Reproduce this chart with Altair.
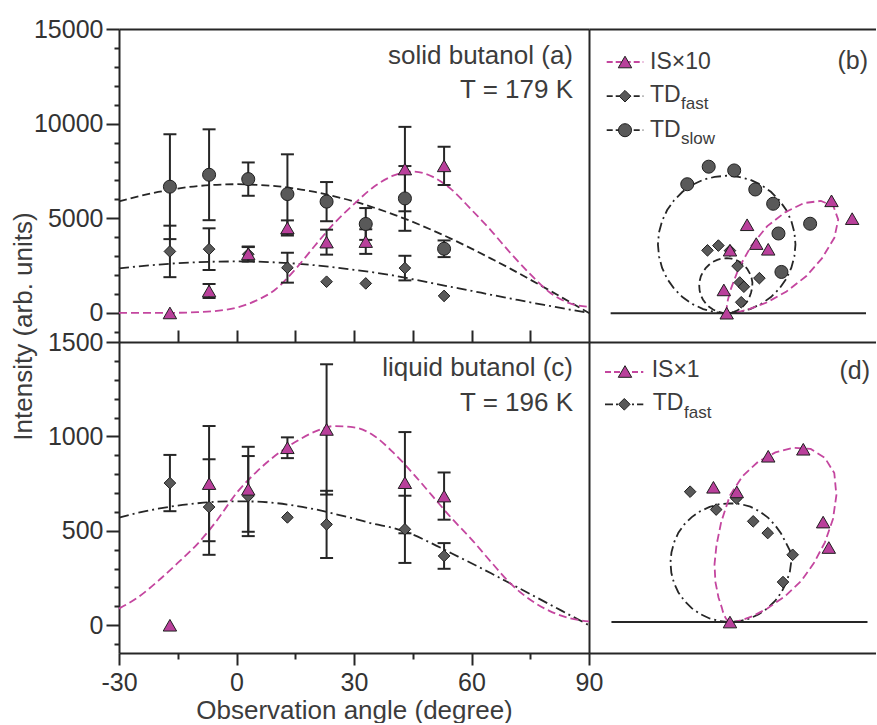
import altair as alt
import pandas as pd

FONT = "Liberation Sans"
MAG_LINE = "#c4469f"
MAG_FILL = "#b9409b"
DARK_FILL = "#595959"
EDGE = "#1f1f1f"
INK = "#262626"
TEXT = "#3c3c3c"
DASH = [8, 4]
DASHDOT = [10, 4, 2, 4]

angles_a = [-17, -7, 3, 13, 23, 33, 43, 53]
is_a = [0, 1160, 3120, 4490, 3740, 3770, 7600, 7770]
is_a_err = [0, 370, 390, 400, 660, 650, 2230, 1010]
fast_a = [3250, 3370, 3100, 2390, 1650, 1560, 2370, 900]
fast_a_err = [1360, 1100, 380, 790, 0, 0, 650, 0]
slow_a = [6670, 7300, 7070, 6280, 5880, 4700, 6050, 3390]
slow_a_err = [2770, 2400, 880, 2100, 1035, 840, 1710, 440]

angles_c = [-17, -7, 3, 13, 23, 43, 53]
is_c = [0, 750, 720, 940, 1037, 755, 684]
is_c_err = [0, 305, 225, 55, 345, 268, 125]
fast_c = [753, 626, 684, 571, 534, 508, 367]
fast_c_err = [149, 253, 212, 0, 178, 178, 68]

# fitted curves
fit_angles = [-90, -85, -80, -75, -70, -65, -60, -55, -50, -45, -40, -35, -30,
              -25, -20, -15, -10, -5, 0, 5, 10, 15, 20, 25, 30, 35, 40, 45,
              50, 55, 60, 65, 70, 75, 80, 85, 90]
slow_a_fit = [0, 590, 1180, 1760, 2330, 2870, 3400, 3900, 4370, 4810, 5210, 5570, 5890,
              6160, 6390, 6570, 6700, 6770, 6800, 6770, 6700, 6570, 6390, 6160, 5890,
              5570, 5210, 4810, 4370, 3900, 3400, 2870, 2330, 1760, 1180, 590, 0]
fast_a_fit = [0, 230, 470, 700, 930, 1150, 1360, 1560, 1750, 1920, 2080, 2230, 2350,
              2460, 2550, 2630, 2680, 2710, 2720, 2710, 2670, 2610, 2520, 2410, 2280,
              2140, 1980, 1780, 1570, 1370, 1170, 960, 760, 560, 370, 180, 0]
is_a_fit = [0, 0, 0, 0, 0, 0, 0, 0, 0, 0, 0, 0, 0, 0, 0,
            10, 40, 110, 280, 650, 1250, 2300, 3550, 4750, 5750, 6650, 7250, 7470,
            7200, 6500, 5450, 4350, 3150, 2050, 1080, 520, 320]
fast_c_fit = [0, 57, 114, 170, 225, 278, 330, 378, 423, 465, 503, 538, 570,
              596, 617, 634, 646, 654, 656, 655, 647, 633, 614, 590, 565, 537,
              515, 480, 432, 380, 328, 275, 220, 165, 110, 55, 0]
is_c_fit = [0, 0, 1, 2, 4, 7, 11, 17, 25, 36, 50, 67, 88,
            150, 235, 330, 430, 555, 700, 810, 900, 970, 1025, 1055, 1048, 1005,
            915, 805, 685, 565, 455, 335, 220, 135, 75, 38, 20]

baseline_b = [-5740, 6890]
baseline_d = [-655, 760]


def pts(angles, vals, errs):
    return pd.DataFrame({"a": angles, "v": vals, "e": errs})


A_IS = pts(angles_a, is_a, is_a_err)
A_FAST = pts(angles_a, fast_a, fast_a_err)
A_SLOW = pts(angles_a, slow_a, slow_a_err)
C_IS = pts(angles_c, is_c, is_c_err)
C_FAST = pts(angles_c, fast_c, fast_c_err)
FIT_A = pd.DataFrame({"a": fit_angles, "slow": slow_a_fit, "fast": fast_a_fit, "IS": is_a_fit})
FIT_C = pd.DataFrame({"a": fit_angles, "fast": fast_c_fit, "IS": is_c_fit})
ONE = pd.DataFrame({"k": [0]})
BASE_B = pd.DataFrame({"x1": [baseline_b[0]], "x2": [baseline_b[1]], "y": [0]})
BASE_D = pd.DataFrame({"x1": [baseline_d[0]], "x2": [baseline_d[1]], "y": [0]})

# ---------------- scales ----------------
def sc(lo, hi):
    return alt.Scale(domain=[lo, hi], nice=False, zero=False)

XS = sc(-30, 90)
YA = sc(-1535, 15000)
YC = sc(-147, 1500)
XB = sc(-6810, 7384)
YB = sc(-1424, 14055)
XD = sc(-779, 807)
YD = sc(-171, 1547)

# ---------------- axes ----------------
ax_top_border = alt.Axis(orient="top", domain=True, ticks=False, labels=False, title=None)
ax_bottom_border = alt.Axis(orient="bottom", domain=True, ticks=False, labels=False, title=None)
ax_right_border = alt.Axis(orient="right", domain=True, ticks=False, labels=False, title=None)

ya_major = alt.Axis(orient="left", values=[0, 5000, 10000, 15000], format="d", tickSize=13,
                    labelPadding=3, title="Intensity (arb. units)", titleX=-88, titleY=297,
                    titleAngle=270, titleAlign="center", titleBaseline="alphabetic")
ya_minor = alt.Axis(orient="left", values=[-1000, 1000, 2000, 3000, 4000, 6000, 7000, 8000, 9000,
                                           11000, 12000, 13000, 14000],
                    tickSize=5, labels=False, domain=False, title=None)
yc_major = alt.Axis(orient="left", values=[0, 500, 1000, 1500], format="d", tickSize=13,
                    labelPadding=3, title=None)
yc_minor = alt.Axis(orient="left", values=[-100, 100, 200, 300, 400, 600, 700, 800, 900,
                                           1100, 1200, 1300, 1400],
                    tickSize=5, labels=False, domain=False, title=None)
xc_major = alt.Axis(orient="bottom", values=[-30, 0, 30, 60, 90], labelExpr="'' + datum.value",
                    tickSize=12, labelPadding=5, title="Observation angle (degree)",
                    titleBaseline="alphabetic", titleY=65)
xc_minor = alt.Axis(orient="bottom", values=[-15, 15, 45, 75], tickSize=6, labels=False,
                    domain=False, title=None)
xc_top = alt.Axis(orient="top", values=[-15, 0, 15, 30, 45, 60, 75], tickSize=12, labels=False,
                  domain=True, title=None)

TRI = {"shape": "triangle-up", "fill": MAG_FILL, "size": 180}
DIA = {"shape": "diamond", "fill": DARK_FILL, "size": 135}
CIR = {"shape": "circle", "fill": DARK_FILL, "size": 170}


def curve(df, field, color, dash, xs, ys, xaxis=None, yaxis=None):
    return alt.Chart(df).transform_filter("datum.a >= -30").mark_line(
        color=color, strokeDash=dash, strokeWidth=1.8, interpolate="monotone"
    ).encode(x=alt.X("a:Q", scale=xs, axis=xaxis),
             y=alt.Y(f"{field}:Q", scale=ys, axis=yaxis),
             order="a:Q")


def polar_curve(df, field, color, dash, xs, ys, xaxis=None):
    return alt.Chart(df).transform_calculate(
        px=f"datum['{field}'] * sin(datum.a * PI / 180)",
        py=f"datum['{field}'] * cos(datum.a * PI / 180)",
    ).mark_line(color=color, strokeDash=dash, strokeWidth=1.8).encode(
        x=alt.X("px:Q", scale=xs, axis=xaxis),
        y=alt.Y("py:Q", scale=ys, axis=None),
        order="a:Q")


def errbars(df, xs, ys):
    base = alt.Chart(df).transform_filter("datum.e > 0").transform_calculate(
        lo="datum.v - datum.e", hi="datum.v + datum.e")
    x = alt.X("a:Q", scale=xs, axis=None)
    rule = base.mark_rule(color=INK, strokeWidth=2).encode(
        x=x, y=alt.Y("lo:Q", scale=ys, axis=None), y2="hi:Q")
    lo = base.mark_tick(orient="horizontal", size=13, thickness=2, color=INK, opacity=1).encode(
        x=x, y=alt.Y("lo:Q", scale=ys, axis=None))
    hi = base.mark_tick(orient="horizontal", size=13, thickness=2, color=INK, opacity=1).encode(
        x=x, y=alt.Y("hi:Q", scale=ys, axis=None))
    return [rule, lo, hi]


def markers(df, style, xs, ys, polar=False, xaxis=None, yaxis=None):
    ch = alt.Chart(df)
    xf, yf = "a", "v"
    if polar:
        ch = ch.transform_calculate(px="datum.v * sin(datum.a * PI / 180)",
                                    py="datum.v * cos(datum.a * PI / 180)")
        xf, yf = "px", "py"
    return ch.mark_point(filled=True, opacity=1, stroke=EDGE, strokeWidth=1, **style).encode(
        x=alt.X(f"{xf}:Q", scale=xs, axis=xaxis), y=alt.Y(f"{yf}:Q", scale=ys, axis=yaxis))


def baseline(df, xs, ys):
    return alt.Chart(df).mark_rule(color=INK, strokeWidth=2).encode(
        x=alt.X("x1:Q", scale=xs, axis=None), x2="x2:Q", y=alt.Y("y:Q", scale=ys, axis=None))


def leg_line(x1, x2, y, color, dash):
    return alt.Chart(ONE).mark_rule(color=color, strokeDash=dash, strokeWidth=1.8).encode(
        x=alt.value(x1), x2=alt.value(x2), y=alt.value(y))


def leg_marker(x, y, style):
    return alt.Chart(ONE).mark_point(filled=True, opacity=1, stroke=EDGE, strokeWidth=1,
                                     **style).encode(x=alt.value(x), y=alt.value(y))


def txt(s, x, y, size, align="left"):
    return alt.Chart(ONE).mark_text(text=s, align=align, baseline="alphabetic", font=FONT,
                                    fontSize=size, color=TEXT).encode(
        x=alt.value(x), y=alt.value(y))


W_L, W_R, H_A, H_C = 470, 287, 313, 311

A = alt.layer(
    curve(FIT_A, "slow", INK, DASH, XS, YA, xaxis=ax_top_border, yaxis=ya_major),
    curve(FIT_A, "fast", INK, DASHDOT, XS, YA, yaxis=ya_minor),
    curve(FIT_A, "IS", MAG_LINE, DASH, XS, YA, yaxis=ax_right_border),
    *errbars(A_FAST, XS, YA), *errbars(A_SLOW, XS, YA), *errbars(A_IS, XS, YA),
    markers(A_FAST, DIA, XS, YA), markers(A_SLOW, CIR, XS, YA), markers(A_IS, TRI, XS, YA),
    txt("solid butanol (a)", 454, 35, 26, "right"),
    txt("T = 179 K", 454, 68.5, 26, "right"),
).properties(width=W_L, height=H_A).resolve_axis(x="independent", y="independent")

B = alt.layer(
    polar_curve(FIT_A, "slow", INK, DASHDOT, XB, YB, xaxis=ax_top_border),
    polar_curve(FIT_A, "fast", INK, DASH, XB, YB),
    polar_curve(FIT_A, "IS", MAG_LINE, DASH, XB, YB),
    baseline(BASE_B, XB, YB),
    markers(A_FAST, DIA, XB, YB, polar=True),
    markers(A_SLOW, CIR, XB, YB, polar=True),
    markers(A_IS, TRI, XB, YB, polar=True),
    leg_line(17.7, 54.3, 33, MAG_LINE, [6, 3]), leg_marker(36, 33, TRI),
    txt("IS×10", 61, 39.5, 23),
    leg_line(17.7, 54.3, 67.2, INK, [6, 3]), leg_marker(36, 67.2, DIA),
    txt("TD", 61, 72.5, 23), txt("fast", 92, 79.5, 17),
    leg_line(17.7, 54.3, 101.2, INK, [6, 3]), leg_marker(36, 101.2, CIR),
    txt("TD", 61, 107.5, 23), txt("slow", 92, 115, 17),
    txt("(b)", 279, 40, 25, "right"),
).properties(width=W_R, height=H_A).resolve_axis(x="independent", y="independent")

C = alt.layer(
    curve(FIT_C, "fast", INK, DASHDOT, XS, YC, xaxis=xc_major, yaxis=yc_major),
    curve(FIT_C, "IS", MAG_LINE, DASH, XS, YC, xaxis=xc_minor, yaxis=yc_minor),
    *errbars(C_FAST, XS, YC), *errbars(C_IS, XS, YC),
    markers(C_FAST, DIA, XS, YC, xaxis=xc_top, yaxis=ax_right_border),
    markers(C_IS, TRI, XS, YC),
    txt("liquid butanol (c)", 454, 34, 26, "right"),
    txt("T = 196 K", 454, 69, 26, "right"),
).properties(width=W_L, height=H_C).resolve_axis(x="independent", y="independent")

D = alt.layer(
    polar_curve(FIT_C, "fast", INK, DASHDOT, XD, YD, xaxis=ax_top_border),
    polar_curve(FIT_C, "IS", MAG_LINE, DASH, XD, YD, xaxis=ax_bottom_border),
    baseline(BASE_D, XD, YD),
    markers(C_FAST, DIA, XD, YD, polar=True),
    markers(C_IS, TRI, XD, YD, polar=True),
    leg_line(16, 54.3, 30, MAG_LINE, [6, 3]), leg_marker(36, 29.5, TRI),
    txt("IS×1", 62.7, 35, 23),
    leg_line(16, 54.3, 62.3, INK, [8, 3, 2, 3]), leg_marker(35.3, 62.3, DIA),
    txt("TD", 63.7, 68.3, 23), txt("fast", 95, 75.6, 17),
    txt("(d)", 281, 37, 25, "right"),
).properties(width=W_R, height=H_C).resolve_axis(x="independent", y="independent")

chart = alt.concat(A, B, C, D, columns=2, spacing=0, bounds="flush", align="each").properties(
    padding={"left": 10, "top": 17, "right": 0, "bottom": 0}
).configure_view(stroke=None).configure_axis(
    grid=False, domainColor=INK, domainWidth=2, tickColor=INK, tickWidth=2,
    labelFont=FONT, labelFontSize=25, labelColor="#333333",
    titleFont=FONT, titleFontSize=26, titleColor=TEXT, titleFontWeight="normal",
    labelFlush=False, labelOverlap=False,
)

chart.save("out.html", embed_options={"renderer": "svg", "actions": False})
